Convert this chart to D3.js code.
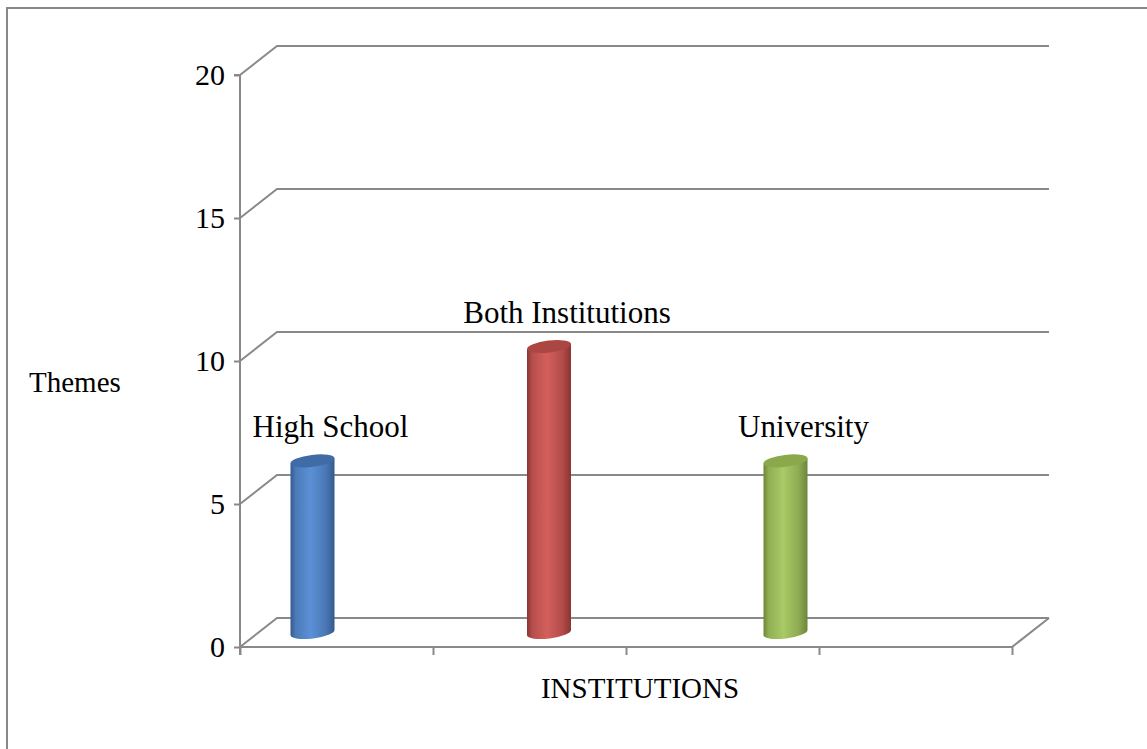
<!DOCTYPE html>
<html>
<head>
<meta charset="utf-8">
<script src="https://cdn.jsdelivr.net/npm/d3@7"></script>
<style>
  body { margin: 0; background: #fff; }
  svg { display: block; font-family: "Liberation Serif", "Times New Roman", serif; }
</style>
</head>
<body>
<svg width="1147" height="749"></svg>
<script>
// chart data
var categories = ["High School", "Both Institutions", "University"];
var values = [6, 10, 6];
var yTicks = [0, 5, 10, 15, 20];
var xTickSlots = [0, 1, 2, 3, 4];

// colours for each cylinder: dark edge, light middle, top cap
var barColors = [
  { edge: "#355a8c", mid: "#5b90d6", top: "#3f6ca6" },
  { edge: "#8a3533", mid: "#d45f5c", top: "#ac4643" },
  { edge: "#6c863a", mid: "#a9ca66", top: "#8aa94d" }
];

var svg = d3.select("svg");
var grid = "#898989";

// depth offset of the 3d box (back wall is up and to the right)
var depthX = 37, depthY = -29;

var yScale = d3.scaleLinear().domain([0, 20]).range([647, 75]);
var xAxisScale = d3.scaleLinear().domain([0, 4]).range([240, 1012]);
var xBar = d3.scalePoint().domain(categories).range([294, 767]);

// outer frame
svg.append("rect")
  .attr("x", 7).attr("y", 8)
  .attr("width", 1200).attr("height", 800)
  .attr("fill", "none")
  .attr("stroke", grid)
  .attr("stroke-width", 2);

// gridlines: slant on the side wall then across the back wall
var x0 = xAxisScale(0), x1 = xAxisScale(4);
svg.selectAll("path.grid")
  .data(yTicks)
  .enter()
  .append("path")
  .attr("class", "grid")
  .attr("fill", "none")
  .attr("stroke", grid)
  .attr("stroke-width", 2)
  .attr("d", function (d) {
    var y = yScale(d);
    var p = d3.path();
    p.moveTo(x0, y);
    p.lineTo(x0 + depthX, y + depthY);
    p.lineTo(x1 + depthX, y + depthY);
    return p.toString();
  });

// floor front edge + right slant
var floor = d3.path();
floor.moveTo(x0, yScale(0));
floor.lineTo(x1, yScale(0));
floor.lineTo(x1 + depthX, yScale(0) + depthY);
svg.append("path")
  .attr("d", floor.toString())
  .attr("fill", "none")
  .attr("stroke", grid)
  .attr("stroke-width", 2);

// value axis
var yAxis = d3.axisLeft(yScale).tickValues(yTicks).tickSize(6).tickPadding(9);
var gy = svg.append("g")
  .attr("transform", "translate(" + x0 + ",0)")
  .call(yAxis);
gy.select(".domain").attr("stroke", grid).attr("stroke-width", 2)
  .attr("d", "M-6," + yScale(20) + "H0V" + (yScale(0) + 8));
gy.selectAll(".tick line").attr("stroke", grid).attr("stroke-width", 2);
gy.selectAll(".tick text")
  .attr("fill", "#000")
  .style("font-size", "30px")
  .style("font-family", "Liberation Serif");

// category axis ticks (no labels)
var xAxis = d3.axisBottom(xAxisScale).tickValues(xTickSlots).tickSize(8).tickFormat("");
var gx = svg.append("g")
  .attr("transform", "translate(0," + yScale(0) + ")")
  .call(xAxis);
gx.select(".domain").remove();
gx.selectAll(".tick line").attr("stroke", grid).attr("stroke-width", 2);

// gradients for the cylinders
var defs = svg.append("defs");
barColors.forEach(function (c, i) {
  var g = defs.append("linearGradient")
    .attr("id", "cyl" + i)
    .attr("x1", "0").attr("x2", "1").attr("y1", "0").attr("y2", "0");
  g.append("stop").attr("offset", "0%").attr("stop-color", c.edge);
  g.append("stop").attr("offset", "12%").attr("stop-color", d3.interpolateRgb(c.edge, c.mid)(0.6));
  g.append("stop").attr("offset", "45%").attr("stop-color", c.mid);
  g.append("stop").attr("offset", "80%").attr("stop-color", d3.interpolateRgb(c.mid, c.edge)(0.45));
  g.append("stop").attr("offset", "100%").attr("stop-color", c.edge);
});

var rx = 22, ry = 6, tilt = -7;

var bars = svg.selectAll("g.bar")
  .data(values)
  .enter()
  .append("g")
  .attr("class", "bar");

// body of the cylinder
bars.append("path")
  .attr("fill", function (d, i) { return "url(#cyl" + i + ")"; })
  .attr("d", function (d, i) {
    var cx = xBar(categories[i]) + depthX / 2;
    var yb = yScale(0) + depthY / 2;
    var yt = yScale(d) + depthY / 2;
    var tanT = Math.tan(tilt * Math.PI / 180);
    return "M" + (cx - rx) + "," + (yt - rx * tanT) +
      "L" + (cx - rx) + "," + (yb - rx * tanT) +
      "A" + rx + "," + ry + " " + tilt + " 0 0 " + (cx + rx) + "," + (yb + rx * tanT) +
      "L" + (cx + rx) + "," + (yt + rx * tanT) + "Z";
  });

// top cap
bars.append("ellipse")
  .attr("cx", function (d, i) { return xBar(categories[i]) + depthX / 2; })
  .attr("cy", function (d) { return yScale(d) + depthY / 2; })
  .attr("rx", rx / Math.cos(tilt * Math.PI / 180))
  .attr("ry", ry)
  .attr("fill", function (d, i) { return barColors[i].top; })
  .attr("transform", function (d, i) {
    return "rotate(" + tilt + "," + (xBar(categories[i]) + depthX / 2) + "," + (yScale(d) + depthY / 2) + ")";
  });

// data labels
svg.selectAll("text.label")
  .data(values)
  .enter()
  .append("text")
  .attr("class", "label")
  .attr("x", function (d, i) { return xBar(categories[i]) + depthX / 2 + 18; })
  .attr("y", function (d) { return yScale(d) + depthY / 2 - 24; })
  .attr("text-anchor", "middle")
  .style("font-size", "31px")
  .text(function (d, i) { return categories[i]; });

// axis titles
svg.append("text")
  .attr("x", 29).attr("y", 392)
  .style("font-size", "29px")
  .text("Themes");

svg.append("text")
  .attr("x", 640).attr("y", 698)
  .attr("text-anchor", "middle")
  .style("font-size", "29px")
  .text("INSTITUTIONS");
</script>
</body>
</html>
